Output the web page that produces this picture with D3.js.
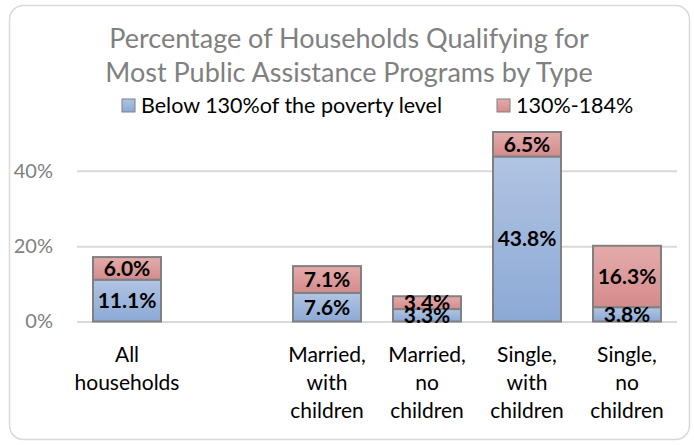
<!DOCTYPE html>
<html>
<head>
<meta charset="utf-8">
<script src="https://cdn.jsdelivr.net/npm/d3@7"></script>
<style>
  body { margin: 0; background: #fff; }
  svg { font-family: Lato, "Open Sans", sans-serif; }
</style>
</head>
<body>
<svg id="chart" width="694" height="445"></svg>
<script>
// data
let categories = [
  ["All", "households"],
  [],
  ["Married,", "with", "children"],
  ["Married,", "no", "children"],
  ["Single,", "with", "children"],
  ["Single,", "no", "children"]
];
let below_130 = [11.1, null, 7.6, 3.3, 43.8, 3.8];
let from_130_to_184 = [6.0, null, 7.1, 3.4, 6.5, 16.3];
let series_names = ["Below 130%of the poverty level", "130%-184%"];
let y_ticks = [0, 20, 40];

let svg = d3.select("#chart");

let plot = { left: 77, right: 677, bottom: 321.5, top: 132 };

// outer frame
svg.append("rect")
  .attr("x", 9.5).attr("y", 5.5)
  .attr("width", 680).attr("height", 434)
  .attr("rx", 14)
  .attr("fill", "#fff")
  .attr("stroke", "#d9d9d9")
  .attr("stroke-width", 1.5);

let defs = svg.append("defs");
let grad_blue = defs.append("linearGradient").attr("id", "grad-blue")
  .attr("x1", 0).attr("y1", 0).attr("x2", 0).attr("y2", 1);
grad_blue.append("stop").attr("offset", "0%").attr("stop-color", "#b1c4e3");
grad_blue.append("stop").attr("offset", "100%").attr("stop-color", "#8ca9d5");
let grad_red = defs.append("linearGradient").attr("id", "grad-red")
  .attr("x1", 0).attr("y1", 0).attr("x2", 0).attr("y2", 1);
grad_red.append("stop").attr("offset", "0%").attr("stop-color", "#e4abab");
grad_red.append("stop").attr("offset", "100%").attr("stop-color", "#d58b8b");

let scale_x = d3.scaleBand()
  .domain(d3.range(categories.length))
  .range([plot.left, plot.right])
  .paddingInner(0.32)
  .paddingOuter(0.16);

let scale_y = d3.scaleLinear()
  .domain([0, 50.3])
  .range([plot.bottom, plot.top]);

// title
svg.append("text")
  .attr("x", 349).attr("y", 48)
  .attr("text-anchor", "middle")
  .attr("font-size", 27)
  .attr("fill", "#808080")
  .text("Percentage of Households Qualifying for");
svg.append("text")
  .attr("x", 349).attr("y", 82)
  .attr("text-anchor", "middle")
  .attr("font-size", 27)
  .attr("fill", "#808080")
  .text("Most Public Assistance Programs by Type");

// legend
let legend_items = [
  { name: series_names[0], x: 122, fill: "url(#grad-blue)" },
  { name: series_names[1], x: 497, fill: "url(#grad-red)" }
];
let legend = svg.append("g").selectAll("g")
  .data(legend_items)
  .join("g")
  .attr("transform", d => "translate(" + d.x + ",105)");
legend.append("rect")
  .attr("x", 0).attr("y", -6)
  .attr("width", 13).attr("height", 13)
  .attr("fill", d => d.fill)
  .attr("stroke", "#808080")
  .attr("stroke-width", 1);
legend.append("text")
  .attr("x", 19).attr("y", 8)
  .attr("font-size", 21.5)
  .attr("fill", "#000")
  .text(d => d.name);

// gridlines and y axis labels
let axis_y = d3.axisLeft(scale_y)
  .tickValues(y_ticks)
  .tickSize(-(plot.right - plot.left))
  .tickPadding(24)
  .tickFormat(d => d + "%");
svg.append("g")
  .classed("axis", true)
  .attr("transform", "translate(" + plot.left + ",0)")
  .call(axis_y)
  .call(g => g.select(".domain").remove())
  .call(g => g.selectAll("line").attr("stroke", "#d9d9d9").attr("stroke-width", 2))
  .call(g => g.selectAll("text")
    .attr("font-size", 20)
    .attr("fill", "#808080")
    .attr("font-family", "Lato, sans-serif"));

// stacked bars
let stacks = categories.map((c, i) => ({
  index: i,
  low: below_130[i],
  high: from_130_to_184[i]
})).filter(d => d.low != null);

let bar_g = svg.append("g");
stacks.forEach(d => {
  let segs = [
    { y0: 0, y1: d.low, value: d.low, fill: "url(#grad-blue)" },
    { y0: d.low, y1: d.low + d.high, value: d.high, fill: "url(#grad-red)" }
  ];
  segs.forEach(s => {
    bar_g.append("rect")
      .attr("x", scale_x(d.index))
      .attr("y", scale_y(s.y1))
      .attr("width", scale_x.bandwidth())
      .attr("height", scale_y(s.y0) - scale_y(s.y1))
      .attr("fill", s.fill)
      .attr("stroke", "#808080")
      .attr("stroke-width", 2);
  });
  segs.forEach(s => {
    bar_g.append("text")
      .attr("x", scale_x(d.index) + scale_x.bandwidth() / 2)
      .attr("y", scale_y((s.y0 + s.y1) / 2))
      .attr("dy", "0.35em")
      .attr("text-anchor", "middle")
      .attr("font-size", 21)
      .attr("font-weight", "bold")
      .attr("fill", "#000")
      .text(s.value.toFixed(1) + "%");
  });
});

// category labels
let cat_g = svg.append("g");
categories.forEach((lines, i) => {
  let t = cat_g.append("text")
    .attr("text-anchor", "middle")
    .attr("font-size", 21)
    .attr("fill", "#000");
  lines.forEach((line, j) => {
    t.append("tspan")
      .attr("x", scale_x(i) + scale_x.bandwidth() / 2)
      .attr("y", 362 + j * 28)
      .text(line);
  });
});
</script>
</body>
</html>
